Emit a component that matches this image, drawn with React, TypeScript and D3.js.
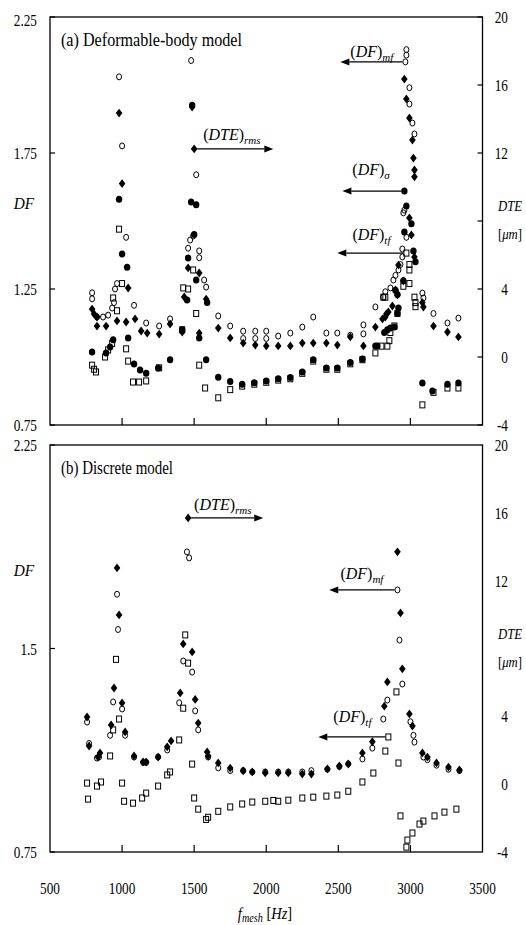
import React from 'react';
import * as d3 from 'd3';

type P = [number, number];

// ---------- axes ----------
const xTickValues = [500, 1000, 1500, 2000, 2500, 3000, 3500];
const topDfTicks = [0.75, 1.25, 1.75, 2.25];
const botDfTicks = [0.75, 1.5, 2.25];
const dteTicks = [-4, 0, 4, 8, 12, 16, 20];
const dteTickLabels = ['-4', '0', '4', '', '12', '16', '20'];

// ---------- (a) Deformable-body model ----------
const topMf: P[] = [
  [792, 1.236], [792, 1.214], [826, 1.147], [868, 1.147], [903, 1.154], [931, 1.18], [944, 1.2], [951, 1.25], [965, 1.27],
  [979, 2.03], [1000, 1.776], [1028, 1.44], [1083, 1.19], [1167, 1.125], [1257, 1.114], [1333, 1.14],
  [1458, 1.4], [1472, 1.43], [1493, 1.445], [1479, 2.09], [1514, 1.67], [1535, 1.39], [1535, 1.365], [1569, 1.283], [1583, 1.257],
  [1667, 1.151], [1750, 1.114], [1840, 1.095], [1840, 1.068], [1924, 1.095], [1924, 1.068], [2000, 1.095], [2000, 1.068],
  [2083, 1.077], [2167, 1.088], [2250, 1.11], [2326, 1.147], [2417, 1.088], [2493, 1.088], [2583, 1.08], [2674, 1.118], [2674, 1.085],
  [2757, 1.184], [2812, 1.22], [2826, 1.24], [2861, 1.254], [2882, 1.283], [2896, 1.3], [2917, 1.32], [2931, 1.34],
  [2944, 1.397], [2944, 1.368], [2951, 1.53], [2958, 1.54], [2972, 2.13], [2972, 2.11], [2965, 2.085], [2993, 1.99], [2993, 1.93],
  [3014, 1.86], [3028, 1.82], [2972, 1.44], [3083, 1.235], [3090, 1.217], [3160, 1.16], [3257, 1.125], [3333, 1.143],
];
const topSigma: P[] = [
  [792, 1.018], [889, 1.015], [917, 1.037], [938, 1.063], [979, 1.58], [1000, 1.379], [1035, 1.33], [1042, 1.07], [1083, 0.974],
  [1125, 0.952], [1167, 0.94], [1250, 0.96], [1333, 0.99], [1417, 1.1],
  [1451, 1.21], [1458, 1.364], [1479, 1.57], [1486, 1.926], [1500, 1.45], [1514, 1.56], [1514, 1.283], [1535, 1.07], [1583, 0.99], [1590, 1.2],
  [1667, 0.926], [1750, 0.91], [1833, 0.9], [1917, 0.905], [2000, 0.912], [2083, 0.92], [2167, 0.925], [2250, 0.945], [2326, 0.99],
  [2417, 0.96], [2493, 0.96], [2583, 0.98], [2667, 0.993], [2757, 1.04], [2771, 1.04],
  [2819, 1.09], [2840, 1.1], [2861, 1.107], [2889, 1.11], [2910, 1.16], [2917, 1.18], [2896, 1.245], [2910, 1.23], [2951, 1.28],
  [2958, 1.61], [2972, 1.555], [3007, 1.49], [2958, 1.46], [3021, 1.39], [3035, 1.35],
  [3083, 0.904], [3153, 0.875], [3257, 0.9], [3333, 0.904],
];
const topTf: P[] = [
  [792, 0.97], [806, 0.955], [819, 0.945], [882, 1.0], [903, 1.026], [931, 1.05], [938, 1.217], [965, 1.17], [979, 1.47], [1000, 1.27],
  [1028, 1.03], [1042, 0.985], [1076, 0.908], [1118, 0.908], [1167, 0.912], [1257, 0.96], [1417, 1.1], [1424, 1.254], [1458, 1.25],
  [1493, 1.32], [1514, 1.16], [1535, 0.97], [1576, 0.886], [1667, 0.85], [1750, 0.88], [1833, 0.893], [1917, 0.9], [2000, 0.907],
  [2083, 0.915], [2167, 0.92], [2250, 0.94], [2326, 0.985], [2417, 0.955], [2493, 0.955], [2583, 0.975], [2667, 0.99], [2757, 1.015],
  [2799, 1.04], [2840, 1.04], [2854, 1.06], [2812, 1.22], [2826, 1.22], [2861, 1.09], [2889, 1.114], [2910, 1.16], [2951, 1.26],
  [2993, 1.27], [2993, 1.34], [2993, 1.32], [2972, 1.382], [3028, 1.22], [3035, 1.2], [3035, 1.185],
  [3083, 0.824], [3160, 0.87], [3257, 0.886], [3333, 0.886],
];
const topDte: P[] = [
  [792, 2.82], [806, 2.53], [826, 2.35], [826, 1.82], [889, 1.82], [965, 2.12], [979, 14.35], [1000, 10.2], [1042, 4.06], [1028, 2.06],
  [1090, 2.24], [1132, 1.53], [1174, 1.41], [1257, 1.35], [1333, 1.94], [1417, 1.47],
  [1431, 3.53], [1458, 5.24], [1486, 14.7], [1500, 12.24], [1535, 4.94], [1583, 3.41], [1535, 1.41],
  [1667, 1.7], [1750, 1.12], [1840, 0.82], [1924, 0.7], [2000, 0.65], [2083, 0.65], [2167, 0.65], [2250, 0.82], [2326, 0.82],
  [2417, 0.82], [2493, 0.7], [2583, 1.18], [2674, 0.65], [2757, 1.76],
  [2806, 2.24], [2826, 2.35], [2833, 2.53], [2847, 2.65], [2875, 3.0], [2896, 3.94], [2910, 3.65], [2917, 5.41], [2951, 4.47],
  [2993, 8.18], [3007, 7.18], [3028, 5.88],
  [2958, 16.35], [2972, 15.18], [2993, 14.06], [3014, 12.76], [3021, 11.7], [3028, 11.0], [3028, 10.6],
  [3083, 3.2], [3090, 2.94], [3160, 1.82], [3257, 1.47], [3333, 1.18],
];

// ---------- (b) Discrete model ----------
const botMf: P[] = [
  [757, 1.229], [771, 1.15], [826, 1.096], [840, 1.1], [917, 1.18], [938, 1.303], [965, 1.7], [972, 1.57], [1000, 1.277], [1021, 1.18],
  [1083, 1.1], [1146, 1.08], [1167, 1.08], [1250, 1.1], [1313, 1.126], [1396, 1.3], [1424, 1.454], [1450, 1.856], [1465, 1.834],
  [1486, 1.413], [1507, 1.27], [1528, 1.2], [1597, 1.1],
  [1667, 1.06], [1750, 1.05], [1840, 1.05], [1903, 1.045], [1993, 1.045], [2083, 1.045], [2153, 1.045], [2250, 1.045], [2313, 1.05],
  [2424, 1.055], [2507, 1.065], [2569, 1.075], [2667, 1.093], [2736, 1.133], [2812, 1.24], [2840, 1.31], [2910, 1.716], [2924, 1.531],
  [2944, 1.369], [3000, 1.23], [3021, 1.18], [3028, 1.155], [3090, 1.1], [3118, 1.09], [3181, 1.07], [3264, 1.055], [3340, 1.05],
];
const botTf: P[] = [
  [757, 1.004], [764, 0.945], [826, 0.993], [854, 1.008], [917, 1.104], [938, 1.2], [958, 1.46], [979, 1.24], [1000, 1.004],
  [1014, 0.937], [1076, 0.93], [1139, 0.949], [1167, 0.967], [1250, 0.993], [1313, 1.034], [1333, 1.045], [1396, 1.163], [1424, 1.28],
  [1438, 1.55], [1458, 1.446], [1486, 1.074], [1500, 0.949], [1528, 0.908], [1583, 0.87], [1597, 0.878], [1667, 0.9], [1750, 0.916],
  [1833, 0.927], [1903, 0.934], [1993, 0.937], [2049, 0.94], [2083, 0.937], [2153, 0.941], [2250, 0.949], [2326, 0.952], [2417, 0.956],
  [2493, 0.96], [2569, 0.974], [2667, 1.008], [2743, 1.041], [2826, 1.122], [2847, 1.174], [2903, 1.34], [2917, 1.078], [2931, 0.883],
  [2972, 0.768], [2979, 0.794], [3014, 0.82], [3063, 0.853], [3090, 0.864], [3167, 0.883], [3236, 0.897], [3319, 0.908],
];
const botDte: P[] = [
  [757, 3.96], [771, 2.25], [833, 1.6], [847, 1.84], [924, 3.49], [944, 5.67], [965, 12.75], [979, 9.98], [1000, 4.79], [1021, 3.08],
  [1083, 1.66], [1146, 1.31], [1167, 1.31], [1250, 1.6], [1313, 2.2], [1340, 2.55], [1403, 5.38], [1424, 8.27], [1458, 15.7],
  [1486, 7.8], [1507, 5.0], [1528, 3.6], [1590, 1.9], [1597, 1.66], [1667, 1.25], [1750, 0.95], [1840, 0.78], [1903, 0.72],
  [1993, 0.66], [2083, 0.66], [2153, 0.66], [2250, 0.6], [2313, 0.6], [2424, 0.9], [2507, 1.07], [2569, 1.19], [2667, 1.84],
  [2736, 2.5], [2819, 4.6], [2840, 6.03], [2910, 13.7], [2931, 10.1], [2944, 6.8], [2993, 4.14], [3014, 3.43], [3083, 1.84],
  [3118, 1.6], [3181, 1.25], [3264, 1.01], [3340, 0.84],
];

// ---------- annotations (arrow start point, arrow end frequency) ----------
type Ann = { main: string; sub: string; f0: number; v0: number; axis: 'df' | 'dte'; f1: number; dx: number; dy: number };
const topAnns: Ann[] = [
  { main: 'DTE', sub: 'rms', f0: 1500, v0: 12.24, axis: 'dte', f1: 2049, dx: 9, dy: -9 },
  { main: 'DF', sub: 'mf', f0: 2965, v0: 2.085, axis: 'df', f1: 2514, dx: -55, dy: -5 },
  { main: 'DF', sub: 'σ', f0: 2958, v0: 1.61, axis: 'df', f1: 2528, dx: -52, dy: -16 },
  { main: 'DF', sub: 'tf', f0: 2972, v0: 1.382, axis: 'df', f1: 2493, dx: -54, dy: -13 },
];
const botAnns: Ann[] = [
  { main: 'DTE', sub: 'rms', f0: 1458, v0: 15.7, axis: 'dte', f1: 1979, dx: 6, dy: -8 },
  { main: 'DF', sub: 'mf', f0: 2910, v0: 1.716, axis: 'df', f1: 2437, dx: -57, dy: -11 },
  { main: 'DF', sub: 'tf', f0: 2847, v0: 1.174, axis: 'df', f1: 2361, dx: -55, dy: -15 },
];

const FONT = "'Liberation Serif', 'Times New Roman', serif";
const X0 = 50;
const X1 = 482.5;

const T = ({ x, y, anchor = 'start', size = 17, sx = 0.78, italic = false, children }: any) => (
  <text
    transform={`translate(${x},${y}) scale(${sx},1)`}
    textAnchor={anchor}
    fontSize={size}
    fontFamily={FONT}
    fontStyle={italic ? 'italic' : 'normal'}
    fill="#000"
  >
    {children}
  </text>
);

const OpenCircle = ({ x, y }: any) => <ellipse cx={x} cy={y} rx={2.5} ry={3} fill="none" stroke="#000" strokeWidth={1} />;
const FilledCircle = ({ x, y }: any) => <ellipse cx={x} cy={y} rx={3.2} ry={3.5} fill="#000" />;
const OpenSquare = ({ x, y }: any) => <rect x={x - 2.5} y={y - 3} width={5} height={6} fill="none" stroke="#000" strokeWidth={1} />;
const Diamond = ({ x, y }: any) => <path d={`M${x},${y - 4.4}L${x + 3.3},${y}L${x},${y + 4.4}L${x - 3.3},${y}Z`} fill="#000" />;

function Panel({ top, bottom, title, titleLen, dfTicks, dfLabelY, series, anns, rightTicks }: any) {
  const x = d3.scaleLinear().domain([500, 3500]).range([X0, X1]);
  const yDf = d3.scaleLinear().domain([0.75, 2.25]).range([bottom, top]);
  const yDte = d3.scaleLinear().domain([-4, 20]).range([bottom, top]);
  const innerX = xTickValues.filter((v) => v > 500 && v < 3500);
  return (
    <g>
      <rect x={X0} y={top} width={X1 - X0} height={bottom - top} fill="none" stroke="#000" strokeWidth={1.3} />
      {innerX.map((v) => (
        <line key={'xt' + v} x1={x(v)} x2={x(v)} y1={bottom} y2={bottom - 7} stroke="#000" strokeWidth={1.2} />
      ))}
      {dfTicks.map((v: number) => (
        <g key={'dl' + v}>
          <line x1={X0} x2={X0 + 5} y1={yDf(v)} y2={yDf(v)} stroke="#000" strokeWidth={1.2} />
          <T x={37} y={yDf(v) + (v === 2.25 && top < 100 ? 9 : 6)} anchor="end">{String(v)}</T>
        </g>
      ))}
      {dteTicks.map((v, i) => (
        <g key={'dr' + v}>
          {rightTicks && <line x1={X1 - 5} x2={X1} y1={yDte(v)} y2={yDte(v)} stroke="#000" strokeWidth={1.2} />}
          {dteTickLabels[i] && <T x={508} y={yDte(v) + 6} anchor="end">{dteTickLabels[i]}</T>}
        </g>
      ))}
      <T x={24} y={dfLabelY} anchor="middle" italic sx={0.9}>DF</T>
      <T x={510} y={yDte(8) - 10} anchor="middle" italic size={15} sx={0.85}>DTE</T>
      <text transform={`translate(510,${yDte(8) + 18}) scale(0.85,1)`} textAnchor="middle" fontSize={15} fontFamily={FONT}>
        [<tspan fontStyle="italic">μm</tspan>]
      </text>
      <text x={61} y={top + 29} fontSize={18} fontFamily={FONT} textLength={titleLen} lengthAdjust="spacingAndGlyphs">
        {title}
      </text>
      {series.tf.map((d: P, i: number) => <OpenSquare key={'tf' + i} x={x(d[0])} y={yDf(d[1])} />)}
      {series.mf.map((d: P, i: number) => <OpenCircle key={'mf' + i} x={x(d[0])} y={yDf(d[1])} />)}
      {series.sigma && series.sigma.map((d: P, i: number) => <FilledCircle key={'sg' + i} x={x(d[0])} y={yDf(d[1])} />)}
      {series.dte.map((d: P, i: number) => <Diamond key={'dt' + i} x={x(d[0])} y={yDte(d[1])} />)}
      {anns.map((a: Ann, i: number) => {
        const y = a.axis === 'df' ? yDf(a.v0) : yDte(a.v0);
        const xs = x(a.f0);
        const xe = x(a.f1);
        const dir = xe > xs ? 1 : -1;
        const base = xe - dir * 9;
        return (
          <g key={'an' + i}>
            <line x1={xs + dir * 3} x2={base} y1={y} y2={y} stroke="#000" strokeWidth={1.2} />
            <path d={`M${xe},${y}L${base},${y - 3.5}L${base},${y + 3.5}Z`} fill="#000" />
            <text x={xs + a.dx} y={y + a.dy} fontSize={16} fontFamily={FONT}>
              (<tspan fontStyle="italic">{a.main}</tspan>)
              <tspan fontStyle="italic" fontSize={11} dy={4}>{a.sub}</tspan>
            </text>
          </g>
        );
      })}
    </g>
  );
}

export default function App() {
  const x = d3.scaleLinear().domain([500, 3500]).range([X0, X1]);
  return (
    <div style={{ position: 'absolute', left: 0, top: 0, background: '#fff' }}>
      <svg width={526} height={925} style={{ display: 'block', background: '#fff' }}>
        <Panel
          top={17}
          bottom={425}
          title="(a) Deformable-body model"
          titleLen={181}
          dfTicks={topDfTicks}
          dfLabelY={209}
          series={{ mf: topMf, sigma: topSigma, tf: topTf, dte: topDte }}
          anns={topAnns}
          rightTicks={true}
        />
        <Panel
          top={445}
          bottom={852}
          title="(b) Discrete model"
          titleLen={112}
          dfTicks={botDfTicks}
          dfLabelY={576}
          series={{ mf: botMf, tf: botTf, dte: botDte }}
          anns={botAnns}
          rightTicks={false}
        />
        {xTickValues.map((v) => (
          <T key={'xl' + v} x={x(v)} y={894} anchor="middle">{String(v)}</T>
        ))}
        <text transform="translate(265,919) scale(0.85,1)" textAnchor="middle" fontSize={17} fontFamily={FONT}>
          <tspan fontStyle="italic">f</tspan>
          <tspan fontStyle="italic" fontSize={12} dy={3}>mesh</tspan>
          <tspan dy={-3}> [</tspan>
          <tspan fontStyle="italic">Hz</tspan>]
        </text>
      </svg>
    </div>
  );
}
